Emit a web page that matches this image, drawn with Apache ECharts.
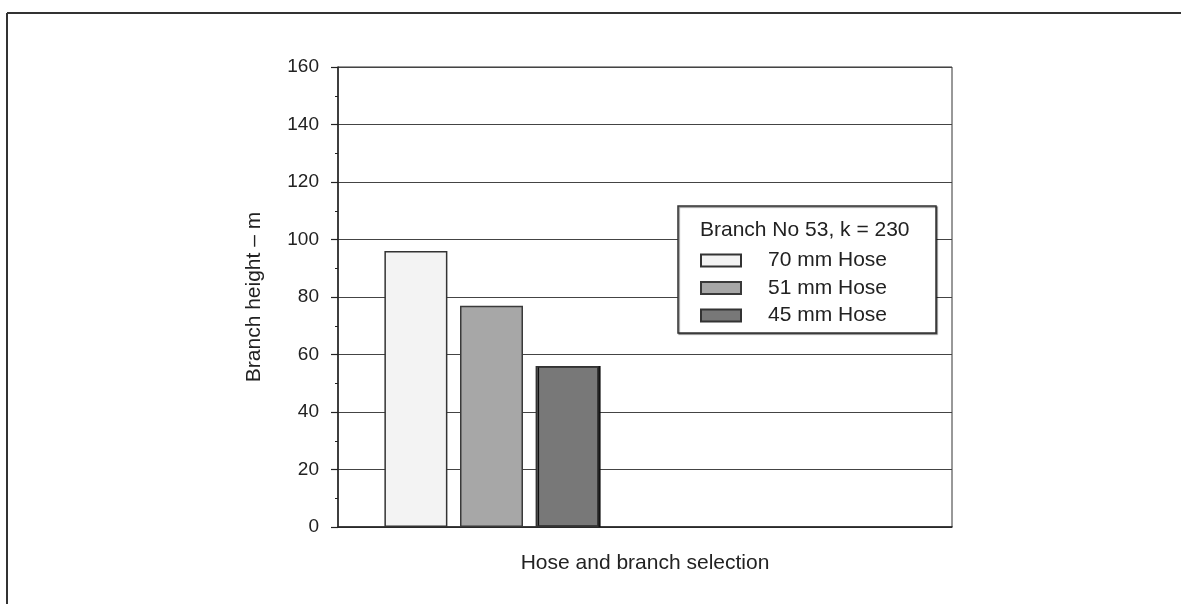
<!DOCTYPE html>
<html>
<head>
<meta charset="utf-8">
<script src="https://cdn.jsdelivr.net/npm/echarts@6/dist/echarts.min.js"></script>
<style>
html,body{margin:0;padding:0;background:#fff;}
#chart{width:1181px;height:604px;}
</style>
</head>
<body>
<div id="chart"></div>
<script>
// ---- data ----
const categories = ['Branch No 53, k = 230', ''];
const seriesNames = ['70 mm Hose', '51 mm Hose', '45 mm Hose'];
const hose70 = [96, null];
const hose51 = [77, null];
const hose45 = [56, null];
const yTicks = [0, 20, 40, 60, 80, 100, 120, 140, 160];
const legendTitle = 'Branch No 53, k = 230';
const xTitle = 'Hose and branch selection';
const yTitle = 'Branch height – m';

const FONT = '"Liberation Sans", Arial, Helvetica, sans-serif';
const chart = echarts.init(document.getElementById('chart'));

const option = {
  backgroundColor: '#ffffff',
  animation: false,
  textStyle: { fontFamily: FONT, color: '#222' },
  grid: {
    left: 338, right: 229, top: 67, bottom: 77,
    show: true, borderColor: '#333', borderWidth: 1, backgroundColor: 'transparent'
  },
  xAxis: {
    type: 'category',
    data: categories,
    name: xTitle,
    nameLocation: 'middle',
    nameGap: 26,
    nameTextStyle: { fontFamily: FONT, fontSize: 21, color: '#222' },
    axisLine: { show: true, lineStyle: { color: '#222', width: 1.5 } },
    axisTick: { show: false },
    axisLabel: { show: false },
    splitLine: { show: false }
  },
  yAxis: {
    type: 'value',
    min: yTicks[0],
    max: yTicks[yTicks.length - 1],
    interval: yTicks[1] - yTicks[0],
    name: yTitle,
    nameLocation: 'middle',
    nameGap: 73,
    nameTextStyle: { fontFamily: FONT, fontSize: 21, color: '#222' },
    axisLine: { show: true, lineStyle: { color: '#222', width: 1.5 } },
    axisTick: { show: true, inside: false, length: 7, lineStyle: { color: '#222', width: 1.2 } },
    minorTick: { show: true, splitNumber: 2, length: 3, lineStyle: { color: '#222', width: 1 } },
    axisLabel: { fontFamily: FONT, fontSize: 19, color: '#222', margin: 19 },
    splitLine: { show: true, lineStyle: { color: '#444', width: 1 } }
  },
  legend: {
    orient: 'vertical',
    left: 700,
    top: 250,
    padding: 0,
    itemWidth: 40,
    itemHeight: 12,
    itemGap: 6.5,
    icon: 'rect',
    z: 10,
    textStyle: { fontFamily: FONT, fontSize: 21, color: '#222', lineHeight: 20, padding: [0, 0, 0, 22] },
    data: seriesNames
  },
  graphic: [
    { type: 'line', z: 10, shape: { x1: 7, y1: 13, x2: 1181, y2: 13 }, style: { stroke: '#333', lineWidth: 2 } },
    { type: 'line', z: 10, shape: { x1: 7, y1: 13, x2: 7, y2: 604 }, style: { stroke: '#333', lineWidth: 2 } },
    { type: 'rect', z: 5, shape: { x: 678, y: 206, width: 258, height: 127 },
      style: { fill: '#ffffff', stroke: '#333', lineWidth: 1.5, shadowColor: 'rgba(0,0,0,0.5)', shadowOffsetX: 1, shadowOffsetY: 1, shadowBlur: 1 } },
    { type: 'text', z: 10, x: 700, y: 230,
      style: { text: legendTitle, font: '21px ' + FONT, fill: '#222', verticalAlign: 'middle', align: 'left' } }
  ],
  series: [
    { name: seriesNames[0], type: 'bar', data: hose70, barWidth: 63, barGap: '20%',
      itemStyle: { color: '#f3f3f3', borderColor: '#333', borderWidth: 1.5 } },
    { name: seriesNames[1], type: 'bar', data: hose51, barWidth: 63, barGap: '20%',
      itemStyle: { color: '#a7a7a7', borderColor: '#3a3a3a', borderWidth: 1.5 } },
    { name: seriesNames[2], type: 'bar', data: hose45, barWidth: 63, barGap: '20%',
      itemStyle: { color: '#787878', borderColor: '#333', borderWidth: 1.5,
        shadowColor: '#111', shadowOffsetX: 2, shadowOffsetY: 0, shadowBlur: 0 } }
  ]
};
chart.setOption(option);
</script>
</body>
</html>
